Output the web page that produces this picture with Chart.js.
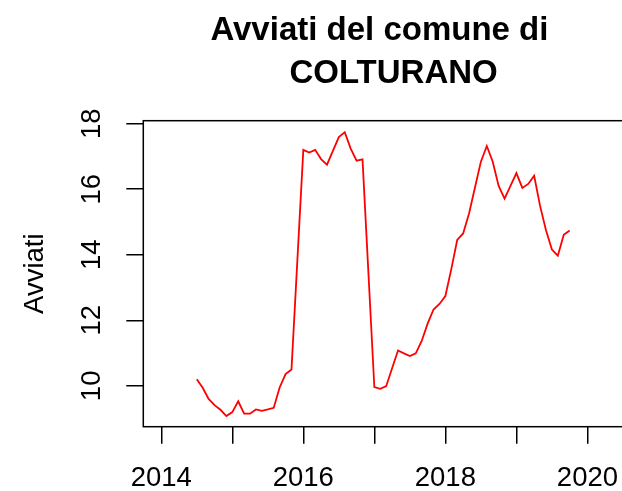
<!DOCTYPE html>
<html>
<head>
<meta charset="utf-8">
<script src="https://cdn.jsdelivr.net/npm/chart.js@4/dist/chart.umd.min.js"></script>
<style>
    html, body { margin: 0; padding: 0; overflow: hidden; background: #fff; }
    #wrap { width: 640px; height: 491px; }
</style>
</head>
<body>
<div id="wrap"><canvas id="chartAvviati" width="640" height="491"></canvas></div>
<script>
// Dati (mensili, luglio 2014 - ottobre 2019)
const mesi = [
    '2014-07', '2014-08', '2014-09', '2014-10', '2014-11', '2014-12',
    '2015-01', '2015-02', '2015-03', '2015-04', '2015-05', '2015-06',
    '2015-07', '2015-08', '2015-09', '2015-10', '2015-11', '2015-12',
    '2016-01', '2016-02', '2016-03', '2016-04', '2016-05', '2016-06',
    '2016-07', '2016-08', '2016-09', '2016-10', '2016-11', '2016-12',
    '2017-01', '2017-02', '2017-03', '2017-04', '2017-05', '2017-06',
    '2017-07', '2017-08', '2017-09', '2017-10', '2017-11', '2017-12',
    '2018-01', '2018-02', '2018-03', '2018-04', '2018-05', '2018-06',
    '2018-07', '2018-08', '2018-09', '2018-10', '2018-11', '2018-12',
    '2019-01', '2019-02', '2019-03', '2019-04', '2019-05', '2019-06',
    '2019-07', '2019-08', '2019-09', '2019-10'
];
const avviati = [
    10.20, 9.94, 9.60, 9.41, 9.27, 9.08,
    9.20, 9.53, 9.15, 9.15, 9.28, 9.24,
    9.28, 9.33, 9.95, 10.36, 10.50, 13.85,
    17.20, 17.12, 17.20, 16.92, 16.75, 17.17,
    17.59, 17.74, 17.24, 16.87, 16.91, 13.44,
    9.96, 9.91, 9.99, 10.54, 11.08, 10.99,
    10.91, 10.99, 11.37, 11.90, 12.33, 12.50,
    12.74, 13.56, 14.45, 14.65, 15.26, 16.05,
    16.84, 17.32, 16.84, 16.10, 15.71, 16.10,
    16.49, 16.04, 16.16, 16.41, 15.49, 14.75,
    14.16, 13.97, 14.61, 14.74
];
const anniTick = [2014, 2015, 2016, 2017, 2018, 2019, 2020];
const anniEtichette = [2014, 2016, 2018, 2020];
const valoriTick = [10, 12, 14, 16, 18];
const titolo = ['Avviati del comune di ', ' COLTURANO'];

const FONT = "'Liberation Sans', Arial, sans-serif";

// mese "AAAA-MM" -> anno decimale, come il tempo di una serie ts in R
const punti = mesi.map((m, i) => {
    const [a, mm] = m.split('-').map(Number);
    return { x: a + (mm - 1) / 12, y: avviati[i] };
});

// titolo su due righe centrato sull'area del grafico + riquadro
const cornice = {
    id: 'cornice',
    afterDraw(chart) {
        const { ctx, chartArea: ca } = chart;
        ctx.save();
        ctx.strokeStyle = '#000';
        ctx.lineWidth = 1.5;
        ctx.strokeRect(ca.left, ca.top, ca.right - ca.left, ca.bottom - ca.top);
        const cx = (ca.left + ca.right) / 2;
        ctx.fillStyle = '#000';
        ctx.font = 'bold 33px ' + FONT;
        ctx.textAlign = 'center';
        ctx.textBaseline = 'alphabetic';
        ctx.fillText(titolo[0], cx - 1, 40);
        ctx.fillText(titolo[1], cx + 4, 83);
        ctx.restore();
    }
};

new Chart(document.getElementById('chartAvviati'), {
    type: 'line',
    data: {
        datasets: [{
            label: 'Avviati',
            data: punti,
            borderColor: '#ff0000',
            borderWidth: 1.8,
            pointRadius: 0,
            tension: 0,
            fill: false
        }]
    },
    options: {
        responsive: false,
        animation: false,
        devicePixelRatio: 1,
        layout: { padding: { top: 120.7, right: 13.3, bottom: 0, left: 0 } },
        plugins: {
            legend: { display: false },
            title: { display: false },
            tooltip: { enabled: false }
        },
        scales: {
            x: {
                type: 'linear',
                min: 2013.747,
                max: 2020.553,
                afterBuildTicks: s => { s.ticks = anniTick.map(v => ({ value: v })); },
                afterFit: s => { s.height = 64.3; },
                border: { display: false },
                grid: {
                    drawOnChartArea: false,
                    drawTicks: true,
                    tickLength: 17,
                    color: '#000',
                    lineWidth: 1.5
                },
                ticks: {
                    color: '#000',
                    font: { family: FONT, size: 27.5 },
                    padding: 18,
                    maxRotation: 0,
                    autoSkip: false,
                    callback: v => anniEtichette.includes(v) ? String(v) : ''
                }
            },
            y: {
                min: 8.754,
                max: 18.09,
                afterBuildTicks: s => { s.ticks = valoriTick.map(v => ({ value: v })); },
                afterFit: s => { s.width = 143.3; },
                border: { display: false },
                grid: {
                    drawOnChartArea: false,
                    drawTicks: true,
                    tickLength: 17,
                    color: '#000',
                    lineWidth: 1.5
                },
                ticks: {
                    color: '#000',
                    font: { family: FONT, size: 27.5 },
                    padding: 19,
                    minRotation: 90,
                    maxRotation: 90,
                    crossAlign: 'center',
                    callback: v => String(v)
                },
                title: {
                    display: true,
                    text: 'Avviati',
                    color: '#000',
                    font: { family: FONT, size: 27.5 },
                    padding: { top: 19, bottom: 0 }
                }
            }
        }
    },
    plugins: [cornice]
});
</script>
</body>
</html>
